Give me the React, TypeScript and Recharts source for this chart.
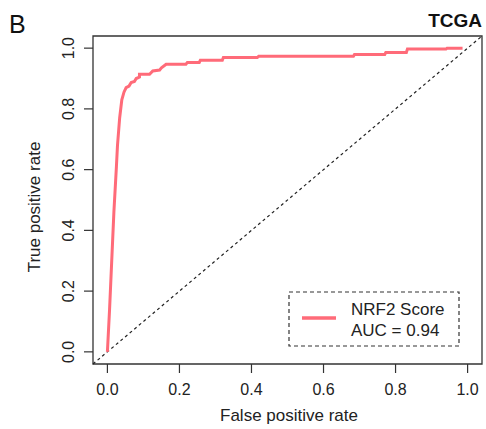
import { LineChart, Line, XAxis, YAxis, ReferenceArea, ReferenceLine, Legend } from 'recharts';

// ROC curve (false positive rate vs true positive rate)
const fpr = [
  0, 0.006, 0.018, 0.025, 0.028, 0.034, 0.04, 0.046, 0.052, 0.06, 0.066, 0.075, 0.08, 0.089, 0.089,
  0.117, 0.126, 0.145, 0.15, 0.163, 0.218, 0.222, 0.255, 0.258, 0.319, 0.322, 0.416, 0.42, 0.683,
  0.686, 0.77, 0.773, 0.83, 0.833, 0.94, 0.943, 0.986,
];
const tpr = [
  0, 0.14, 0.46, 0.61, 0.68, 0.77, 0.83, 0.855, 0.87, 0.875, 0.887, 0.89, 0.9, 0.905, 0.914,
  0.914, 0.925, 0.928, 0.935, 0.947, 0.947, 0.953, 0.953, 0.96, 0.96, 0.969, 0.969, 0.973, 0.973,
  0.979, 0.979, 0.986, 0.986, 0.997, 0.997, 1.0, 1.0,
];
const ticks = [0, 0.2, 0.4, 0.6, 0.8, 1.0];
const seriesName = 'NRF2 Score';
const aucLabel = 'AUC = 0.94';
const panelLabel = 'B';
const title = 'TCGA';

const data = fpr.map((x, i) => ({ fpr: x, tpr: tpr[i] }));

const FONT = '"Liberation Sans", Arial, Helvetica, sans-serif';
const RED = '#ff6b79';
const INK = '#333';

function XTick({ x, y, payload }: any) {
  return (
    <text x={x} y={y + 20} textAnchor="middle" fontSize={16} fill="#222" fontFamily={FONT}>
      {Number(payload.value).toFixed(1)}
    </text>
  );
}

function YTick({ x, y, payload }: any) {
  const bx = x - 8;
  return (
    <text
      x={bx}
      y={y}
      transform={`rotate(-90, ${bx}, ${y})`}
      textAnchor="middle"
      fontSize={16}
      fill="#222"
      fontFamily={FONT}
    >
      {Number(payload.value).toFixed(1)}
    </text>
  );
}

function RocLegend() {
  return (
    <svg width={172} height={56} style={{ display: 'block' }}>
      <rect x={1} y={1} width={170} height={54} fill="white" stroke={INK} strokeWidth={1.2} strokeDasharray="4 3" />
      <line x1={14} x2={48} y1={27} y2={27} stroke={RED} strokeWidth={3.5} />
      <text x={63} y={24} fontSize={17} fill="#222" fontFamily={FONT}>
        {seriesName}
      </text>
      <text x={63} y={45} fontSize={17} fill="#222" fontFamily={FONT}>
        {aucLabel}
      </text>
    </svg>
  );
}

export default function App() {
  return (
    <div style={{ position: 'absolute', left: 0, top: 0, width: 486, height: 429, background: 'white' }}>
      <LineChart
        width={486}
        height={429}
        data={data}
        margin={{ top: 36, right: 4, bottom: 0, left: 0 }}
        style={{ fontFamily: FONT }}
      >
        <XAxis
          dataKey="fpr"
          type="number"
          domain={[-0.04, 1.04]}
          ticks={ticks}
          allowDataOverflow
          height={65}
          axisLine={false}
          tickSize={9}
          tickLine={{ stroke: INK, strokeWidth: 1.2 }}
          tick={<XTick />}
          interval={0}
        />
        <YAxis
          type="number"
          domain={[-0.04, 1.04]}
          ticks={ticks}
          allowDataOverflow
          width={93}
          axisLine={false}
          tickSize={9}
          tickLine={{ stroke: INK, strokeWidth: 1.2 }}
          tick={<YTick />}
          interval={0}
        />
        <ReferenceArea
          x1={-0.04}
          x2={1.04}
          y1={-0.04}
          y2={1.04}
          fill="none"
          fillOpacity={0}
          stroke={INK}
          strokeWidth={1.3}
          ifOverflow="visible"
        />
        <ReferenceLine
          segment={[
            { x: -0.04, y: -0.04 },
            { x: 1.04, y: 1.04 },
          ]}
          stroke="#222"
          strokeWidth={1.2}
          strokeDasharray="3 3"
          ifOverflow="visible"
        />
        <Line
          dataKey="tpr"
          type="linear"
          stroke={RED}
          strokeWidth={3}
          dot={false}
          isAnimationActive={false}
        />
        <Legend
          layout="horizontal"
          verticalAlign="middle"
          align="center"
          content={<RocLegend />}
          wrapperStyle={{ position: 'absolute', left: 288, top: 291, width: 172, height: 56 }}
        />
        <text x={9} y={33} fontSize={25} fill="#111" fontFamily={FONT}>
          {panelLabel}
        </text>
        <text x={482} y={27} fontSize={19} fontWeight="bold" textAnchor="end" fill="#111" fontFamily={FONT}>
          {title}
        </text>
        <text x={289} y={421} fontSize={17} textAnchor="middle" fill="#222" fontFamily={FONT}>
          False positive rate
        </text>
        <text
          x={40}
          y={207}
          fontSize={17}
          textAnchor="middle"
          fill="#222"
          fontFamily={FONT}
          transform="rotate(-90, 40, 207)"
        >
          True positive rate
        </text>
      </LineChart>
    </div>
  );
}
